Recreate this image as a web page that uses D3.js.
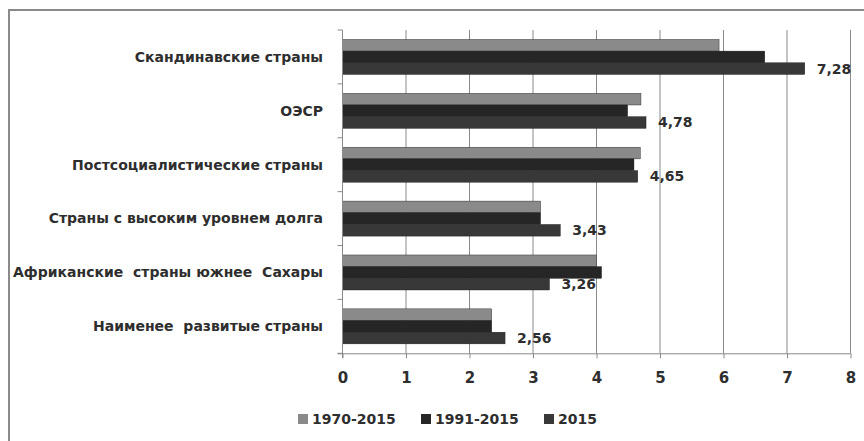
<!DOCTYPE html>
<html><head><meta charset="utf-8">
<script src="https://cdn.jsdelivr.net/npm/d3@7"></script>
<style>body{margin:0;background:#fff;} text{font-family:"DejaVu Sans",sans-serif;font-weight:bold;white-space:pre;}</style>
</head><body>
<svg id="c" width="864" height="441"></svg>
<script>
const categories = ["Скандинавские страны","ОЭСР","Постсоциалистические страны","Страны с высоким уровнем долга","Африканские  страны южнее  Сахары","Наименее  развитые страны"];
const seriesNames = ["1970-2015","1991-2015","2015"];
const v1970 = [5.93,4.70,4.69,3.12,4.00,2.35];
const v1991 = [6.65,4.49,4.59,3.12,4.08,2.35];
const v2015 = [7.28,4.78,4.65,3.43,3.26,2.56];
const xTicks = [0,1,2,3,4,5,6,7,8];
const colors = ["#8a8a8a","#262626","#383838"];
const textColor = "#2e2e2e";

const svg = d3.select("#c");
svg.append("rect").attr("x",0).attr("y",0).attr("width",864).attr("height",441).attr("fill","#fff");
// frame
svg.append("path").attr("d","M9,441 V10 H864").attr("fill","none").attr("stroke","#8a8a8a").attr("stroke-width",2);

const x = d3.scaleLinear().domain([0,8]).range([342.5,850.5]);
const y = d3.scaleBand().domain(categories).range([30,353.3]).paddingInner(0.35).paddingOuter(0.175);
const ys = d3.scaleBand().domain(seriesNames).range([0,y.bandwidth()]);
const step = y.step();

// gridlines
svg.append("g").selectAll("line").data(xTicks.slice(1)).join("line")
  .attr("x1",d=>x(d)).attr("x2",d=>x(d)).attr("y1",30).attr("y2",353.3)
  .attr("stroke","#8a8a8a").attr("stroke-width",1);

const series = [v1970,v1991,v2015];
const g = svg.append("g");
categories.forEach((c,i)=>{
  series.forEach((arr,s)=>{
    g.append("rect").attr("x",x(0)).attr("y",y(c)+ys(seriesNames[s]))
     .attr("width",x(arr[i])-x(0)).attr("height",ys.bandwidth())
     .attr("fill",colors[s]).attr("stroke","#1a1a1a").attr("stroke-width",0.4);
  });
  g.append("text").attr("x",x(v2015[i])+12).attr("y",y(c)+ys("2015")+ys.bandwidth()/2)
   .attr("dy","0.35em").attr("font-size",14).attr("fill",textColor)
   .text(d3.format(".2f")(v2015[i]).replace(".",","));
});

// y axis
const yAxisG = svg.append("g");
yAxisG.append("line").attr("x1",x(0)).attr("x2",x(0)).attr("y1",30).attr("y2",358).attr("stroke","#8a8a8a");
const bounds = d3.range(categories.length+1).map(k=>30+k*step);
yAxisG.selectAll("line.t").data(bounds).join("line").attr("class","t")
  .attr("x1",x(0)-5).attr("x2",x(0)).attr("y1",d=>d).attr("y2",d=>d).attr("stroke","#8a8a8a");
yAxisG.selectAll("text").data(categories).join("text")
  .attr("x",323).attr("y",d=>y(d)+y.bandwidth()/2).attr("dy","0.35em")
  .attr("text-anchor","end").attr("font-size",14).attr("fill",textColor).text(d=>d);

// x axis
const xAxisG = svg.append("g").attr("transform","translate(0,353.3)");
xAxisG.call(d3.axisBottom(x).tickValues(xTicks).tickSize(5).tickPadding(14).tickFormat(d3.format("d")));
xAxisG.select(".domain").attr("stroke","#8a8a8a").attr("d",`M${x(0)-5},0.5H${x(8)}`);
xAxisG.selectAll(".tick line").attr("stroke","#8a8a8a");
xAxisG.selectAll(".tick text").attr("font-size",15).attr("fill",textColor).attr("font-family","DejaVu Sans").attr("font-weight","bold");

// legend
const legX = [298,421,544];
const leg = svg.append("g");
seriesNames.forEach((n,i)=>{
  leg.append("rect").attr("x",legX[i]).attr("y",414).attr("width",10).attr("height",10).attr("fill",colors[i]);
  leg.append("text").attr("x",legX[i]+14).attr("y",419).attr("dy","0.35em").attr("font-size",14).attr("fill",textColor).text(n);
});
</script>
</body></html>
